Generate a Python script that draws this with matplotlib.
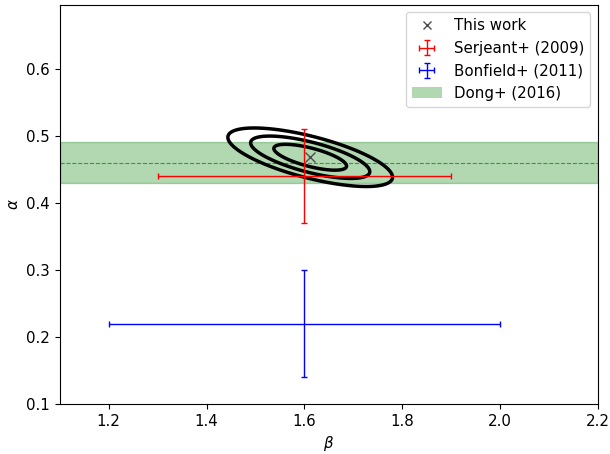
# alpha-beta constraints compared with earlier work
import numpy as np
import matplotlib.pyplot as plt
from matplotlib.patches import Patch

plt.rcParams['font.size'] = 10.8

# this work: best fit and gaussian posterior (beta, alpha)
fit_beta = 1.612
fit_alpha = 0.468
sig_beta = 0.049
sig_alpha = 0.0127
rho = -0.68
chi2_levels = [2.30, 6.18, 11.8]  # 68, 95, 99.7 per cent for 2 params

# literature values: beta, alpha and errors
serjeant_beta, serjeant_alpha = 1.6, 0.44
serjeant_xerr, serjeant_yerr = 0.3, 0.07
bonfield_beta, bonfield_alpha = 1.6, 0.22
bonfield_xerr, bonfield_yerr = 0.4, 0.08
dong_alpha, dong_lo, dong_hi = 0.46, 0.43, 0.49

fig = plt.figure(figsize=(6.1, 4.54), dpi=100)
ax = fig.add_axes([0.098, 0.110, 0.882, 0.879])

# green band for Dong+ (2016)
ax.axhspan(dong_lo, dong_hi, color='green', alpha=0.3, lw=1)
ax.axhline(dong_alpha, color='green', ls='--', lw=0.8, alpha=0.7)

# confidence contours
bb, aa = np.meshgrid(np.linspace(1.3, 1.95, 400), np.linspace(0.38, 0.56, 400))
zb = (bb - fit_beta) / sig_beta
za = (aa - fit_alpha) / sig_alpha
chi2 = (zb**2 - 2 * rho * zb * za + za**2) / (1 - rho**2)
ax.contour(bb, aa, chi2, levels=chi2_levels, colors='k', linewidths=2.5)

ax.plot(fit_beta, fit_alpha, 'x', color='0.3', ms=7, mew=1, label='This work')
ax.errorbar(serjeant_beta, serjeant_alpha, xerr=serjeant_xerr, yerr=serjeant_yerr,
            fmt='none', ecolor='r', elinewidth=1, capsize=2.5, label='Serjeant+ (2009)')
ax.errorbar(bonfield_beta, bonfield_alpha, xerr=bonfield_xerr, yerr=bonfield_yerr,
            fmt='none', ecolor='b', elinewidth=1, capsize=2.5, label='Bonfield+ (2011)')

handles, labels = ax.get_legend_handles_labels()
handles.append(Patch(facecolor='green', alpha=0.3))
labels.append('Dong+ (2016)')
ax.legend(handles, labels, loc='upper right', markerscale=0.8)

ax.set_xlim(1.1, 2.2)
ax.set_ylim(0.1, 0.695)
ax.set_xlabel(r'$\beta$')
ax.set_ylabel(r'$\alpha$')

fig.savefig('out.png', dpi=100)
